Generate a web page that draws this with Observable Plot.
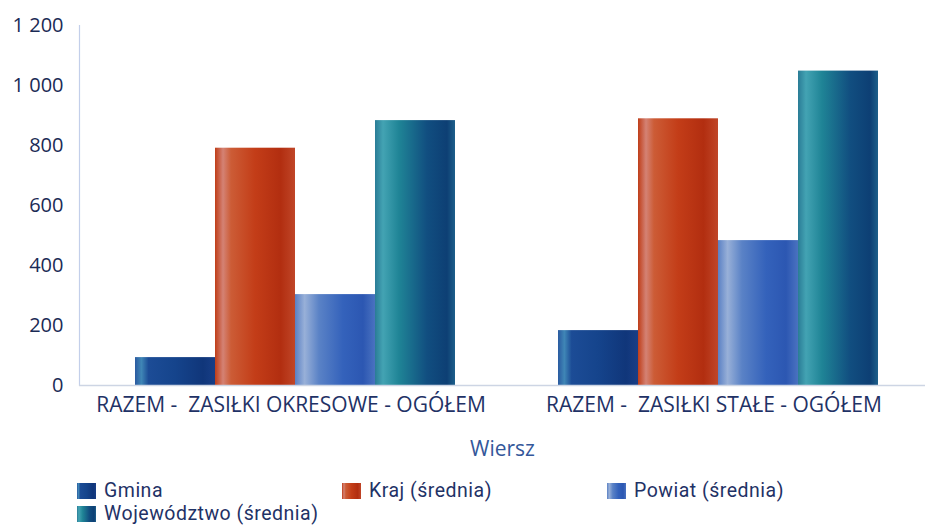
<!DOCTYPE html>
<html>
<head>
<meta charset="utf-8">
<script src="https://cdn.jsdelivr.net/npm/d3@7"></script>
<script src="https://cdn.jsdelivr.net/npm/@observablehq/plot@0.6"></script>
<style>
  html, body { margin: 0; padding: 0; background: #ffffff; }
  body { font-family: "Open Sans", sans-serif; width: 925px; height: 529px; overflow: hidden; }
  #legend { display: grid; grid-template-columns: 265px 265px 265px; padding-left: 77px; margin-top: 14px; }
  .item { display: flex; align-items: center; height: 23px; font-family: Roboto, sans-serif; font-size: 19.5px; letter-spacing: 0.5px; color: #1f3266; white-space: nowrap; }
  .sw { width: 19px; height: 16px; margin-right: 8px; flex: none; }
  .lab { display: inline-block; height: 23px; line-height: 23px; }
</style>
</head>
<body>
<div id="chart"></div>
<div id="legend"></div>
<script>
const categories = ["RAZEM -  ZASIŁKI OKRESOWE - OGÓŁEM", "RAZEM -  ZASIŁKI STAŁE - OGÓŁEM"];
const series = ["Gmina", "Kraj (średnia)", "Powiat (średnia)", "Województwo (średnia)"];
const gminaValues = [93, 183];
const krajValues = [791, 889];
const powiatValues = [303, 483];
const wojValues = [883, 1048];
const yTicks = [0, 200, 400, 600, 800, 1000, 1200];
const axisTitle = "Wiersz";

const valuesBySeries = [gminaValues, krajValues, powiatValues, wojValues];
const data = [];
categories.forEach((c, ci) => series.forEach((s, si) => data.push({category: c, series: s, value: valuesBySeries[si][ci]})));

const gradients = [
  [[0, "#2a5aa0"], [0.08, "#3f86b6"], [0.17, "#1c4c96"], [0.5, "#15448c"], [0.85, "#10367a"], [1, "#183e86"]],
  [[0, "#bf3d18"], [0.1, "#d48274"], [0.2, "#cc5c36"], [0.5, "#c33d18"], [0.82, "#b22e10"], [1, "#c04628"]],
  [[0, "#5a80c4"], [0.12, "#98b0d8"], [0.3, "#5a82c6"], [0.6, "#3462bb"], [0.85, "#2c57b2"], [1, "#4a72c0"]],
  [[0, "#2a7c96"], [0.1, "#43a3b3"], [0.3, "#1f8496"], [0.65, "#114e80"], [0.9, "#0d3f74"], [1, "#1d5f8a"]]
];
const gradIds = gradients.map((g, i) => "barGrad" + i);

const fmt = d => d3.format(",")(d).replace(/,/g, " ");

const chart = Plot.plot({
  width: 925,
  height: 465,
  marginLeft: 79,
  marginRight: 0,
  marginTop: 25,
  marginBottom: 80,
  style: {fontFamily: "Open Sans, sans-serif", background: "transparent"},
  fx: {domain: categories, paddingInner: 0, paddingOuter: 0},
  x: {domain: series, paddingInner: 0, paddingOuter: 0.627, align: 0.545, axis: null},
  y: {domain: [0, 1200]},
  color: {domain: series, range: gradIds.map(id => `url(#${id})`)},
  marks: [
    Plot.frame({anchor: "left", facetAnchor: "left", stroke: "#c3cfea", strokeWidth: 1.2}),
    Plot.barY(data, {fx: "category", x: "series", y: "value", fill: "series", inset: 0}),
    Plot.ruleY([0], {stroke: "#cdd5e4", strokeWidth: 1.5}),
    Plot.axisY({ticks: yTicks, tickFormat: fmt, tickSize: 0, tickPadding: 16,
      fill: "#1b2b55", fontSize: 20, label: null}),
    Plot.axisFx({anchor: "bottom", tickSize: 0, tickPadding: 12, fontSize: 21, fill: "#1f3266",
      label: null}),
    Plot.axisFx({anchor: "bottom", tickSize: 0, tickFormat: () => "", fontSize: 21, fill: "#34579a",
      label: axisTitle, labelAnchor: "center", labelOffset: 70})
  ]
});

const defs = gradients.map((g, i) =>
  `<linearGradient id="${gradIds[i]}" x1="0" x2="1" y1="0" y2="0">` +
  g.map(([o, c]) => `<stop offset="${o}" stop-color="${c}"/>`).join("") +
  `</linearGradient>`).join("");
chart.insertAdjacentHTML("afterbegin", `<defs>${defs}</defs>`);
document.getElementById("chart").appendChild(chart);

const legend = document.getElementById("legend");
series.forEach((s, i) => {
  const item = document.createElement("div");
  item.className = "item";
  const sw = document.createElement("span");
  sw.className = "sw";
  sw.style.background = `linear-gradient(to right, ${gradients[i].map(([o, c]) => `${c} ${o * 100}%`).join(", ")})`;
  const label = document.createElement("span");
  label.className = "lab";
  label.textContent = s;
  item.appendChild(sw);
  item.appendChild(label);
  legend.appendChild(item);
});
</script>
</body>
</html>
